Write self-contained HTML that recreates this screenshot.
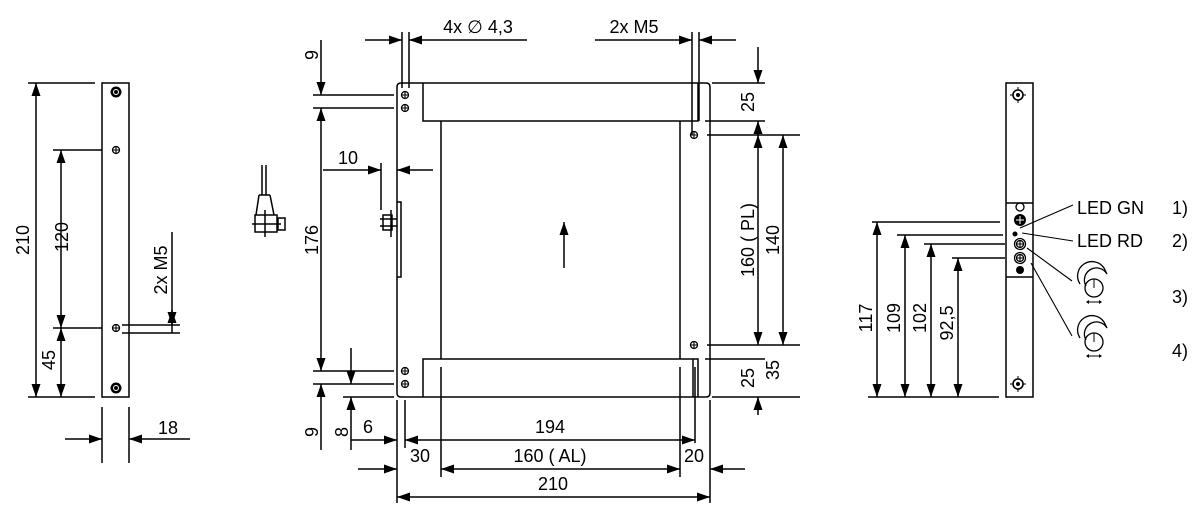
<!DOCTYPE html>
<html><head><meta charset="utf-8"><style>
html,body{margin:0;padding:0;background:#fff}
svg{display:block}
text{font-family:"Liberation Sans",sans-serif;font-size:18px;fill:#000}
</style></head><body>
<svg width="1200" height="519" viewBox="0 0 1200 519" xmlns="http://www.w3.org/2000/svg">
<defs>
<marker id="a" markerUnits="userSpaceOnUse" markerWidth="14" markerHeight="9" refX="13" refY="4.5" orient="auto-start-reverse"><path d="M0,0 L13,4.5 L0,9 z" fill="#000"/></marker>
<g id="h"><circle r="3.5" fill="none" stroke="#000" stroke-width="1.3"/><path d="M-3.5,0H3.5M0,-3.5V3.5" stroke="#000" stroke-width="1.1"/></g>
<g id="H"><circle r="5.5" fill="#000"/><circle r="2.5" fill="none" stroke="#fff" stroke-width="1"/></g>
<g id="R"><circle r="5" fill="none" stroke="#000" stroke-width="1.6"/><circle r="2" fill="#000"/><path d="M-8,0H-5M5,0H8M0,-8V-5M0,5V8" stroke="#000"/></g>
<g id="k"><path d="M-12,4 A13,13 0 0 1 12,-12 L15,-6 A8,8 0 0 0 -6,6" fill="none" stroke="#000" stroke-width="1.3"/><circle cx="2" cy="8" r="9" fill="none" stroke="#000" stroke-width="1.3"/><path d="M2,-1V8M-4,22H8" stroke="#000"/><path d="M-6,22l3,-2v4zM10,22l-3,-2v4z" fill="#000"/></g>
</defs>
<g stroke="#000" stroke-width="1.5" fill="none">
<!-- LEFT VIEW -->
<rect x="102" y="83" width="27" height="314"/>
<path d="M28,83H95M28,397H95M53,150H102M53,328H102"/>
<line x1="36" y1="83" x2="36" y2="397" marker-start="url(#a)" marker-end="url(#a)"/>
<line x1="61" y1="150" x2="61" y2="328" marker-start="url(#a)" marker-end="url(#a)"/>
<line x1="61" y1="328" x2="61" y2="397" marker-start="url(#a)" marker-end="url(#a)"/>
<path d="M122,325H180M122,333H180"/>
<line x1="172" y1="232" x2="172" y2="325" marker-end="url(#a)"/>
<line x1="172" y1="310" x2="172" y2="333" marker-start="url(#a)"/>
<path d="M102,407V463M129,407V463"/>
<line x1="65" y1="439" x2="102" y2="439" marker-end="url(#a)"/>
<line x1="190" y1="439" x2="129" y2="439" marker-end="url(#a)"/>
<!-- cable icon -->
<path d="M262,165V195M266,165V195M259,195H270M259,195L256,215M270,195L274,215M255,215H277V232H255ZM278,218H285V230H278ZM265,210V237M252,224H281"/>
<!-- MIDDLE VIEW -->
<path d="M401,83H706Q710,83 710,87V393Q710,397 706,397H401Q397,397 397,393V87Q397,83 401,83Z"/>
<path d="M423,83V121H698V83M423,397V359H698V397M441,121V359M680,121V359M693,359V397"/>
<path d="M397,202H401V277H397"/>
<path d="M383,215H392V230H383ZM380,219H397M380,226H397M391,210V237"/>
<line x1="564" y1="268" x2="564" y2="222" marker-end="url(#a)"/>
<!-- top dims -->
<path d="M402,32V88M409,32V88M692,32V135M699,32V121"/>
<line x1="365" y1="40" x2="402" y2="40" marker-end="url(#a)"/>
<line x1="527" y1="40" x2="409" y2="40" marker-end="url(#a)"/>
<line x1="595" y1="40" x2="692" y2="40" marker-end="url(#a)"/>
<line x1="736" y1="40" x2="699" y2="40" marker-end="url(#a)"/>
<!-- right dims -->
<path d="M712,83H765M705,121H765M707,135H800M707,345H800M705,359H765M712,397H800"/>
<line x1="758" y1="47" x2="758" y2="83" marker-end="url(#a)"/>
<line x1="758" y1="135" x2="758" y2="121" marker-end="url(#a)"/>
<line x1="758" y1="135" x2="758" y2="345" marker-start="url(#a)" marker-end="url(#a)"/>
<line x1="758" y1="415" x2="758" y2="397" marker-end="url(#a)"/>
<line x1="783" y1="135" x2="783" y2="345" marker-start="url(#a)" marker-end="url(#a)"/>
<!-- left dims -->
<path d="M313,95H394M313,108H394M313,371H394M313,384H394M343,397H394"/>
<line x1="321" y1="40" x2="321" y2="95" marker-end="url(#a)"/>
<line x1="321" y1="108" x2="321" y2="371" marker-start="url(#a)" marker-end="url(#a)"/>
<line x1="321" y1="450" x2="321" y2="384" marker-end="url(#a)"/>
<line x1="351" y1="348" x2="351" y2="384" marker-end="url(#a)"/>
<line x1="351" y1="450" x2="351" y2="397" marker-end="url(#a)"/>
<path d="M381,163V210"/>
<line x1="323" y1="170" x2="381" y2="170" marker-end="url(#a)"/>
<line x1="433" y1="170" x2="397" y2="170" marker-end="url(#a)"/>
<!-- bottom dims -->
<path d="M397,400V503M405,400V448M441,367V477M680,367V477M695,367V443M710,400V503"/>
<line x1="351" y1="440" x2="397" y2="440" marker-end="url(#a)"/>
<line x1="695" y1="440" x2="405" y2="440" marker-start="url(#a)" marker-end="url(#a)"/>
<line x1="358" y1="469" x2="397" y2="469" marker-end="url(#a)"/>
<line x1="441" y1="469" x2="680" y2="469" marker-start="url(#a)" marker-end="url(#a)"/>
<line x1="745" y1="469" x2="710" y2="469" marker-end="url(#a)"/>
<line x1="397" y1="497" x2="710" y2="497" marker-start="url(#a)" marker-end="url(#a)"/>
<!-- RIGHT VIEW -->
<rect x="1006" y="83" width="27" height="314"/>
<path d="M1006,203H1033M1006,277H1033"/>
<path d="M868,397H999M872,222H1000M897,235H1003M924,244H1005M952,258H1005"/>
<line x1="877" y1="222" x2="877" y2="397" marker-start="url(#a)" marker-end="url(#a)"/>
<line x1="905" y1="235" x2="905" y2="397" marker-start="url(#a)" marker-end="url(#a)"/>
<line x1="931" y1="244" x2="931" y2="397" marker-start="url(#a)" marker-end="url(#a)"/>
<line x1="958" y1="258" x2="958" y2="397" marker-start="url(#a)" marker-end="url(#a)"/>
<path d="M1020,228L1073,205M1022,233L1073,241M1027,248L1072,281M1031,263L1072,336" stroke-width="1.1"/>
</g>
<use href="#H" x="116" y="92"/><use href="#H" x="116" y="388"/>
<use href="#h" x="116" y="150"/><use href="#h" x="116" y="328"/>
<use href="#h" x="405" y="95"/><use href="#h" x="405" y="108"/>
<use href="#h" x="405" y="371"/><use href="#h" x="405" y="384"/>
<use href="#h" x="694" y="135"/><use href="#h" x="694" y="345"/>
<use href="#R" x="1018" y="95"/><use href="#R" x="1018" y="384"/>
<circle cx="1020" cy="207" r="4" fill="none" stroke="#000" stroke-width="1.3"/>
<circle cx="1020" cy="220" r="6" fill="#000"/><path d="M1016,220H1024M1020,216V224" stroke="#fff"/>
<circle cx="1015" cy="234" r="2.5" fill="#000"/>
<circle cx="1020" cy="244" r="5.5" fill="none" stroke="#000" stroke-width="1.3"/><use href="#h" x="1020" y="244"/>
<circle cx="1020" cy="258" r="5.5" fill="none" stroke="#000" stroke-width="1.3"/><use href="#h" x="1020" y="258"/>
<circle cx="1020" cy="270" r="4" fill="#000"/>
<use href="#k" x="1092" y="280"/><use href="#k" x="1092" y="334"/>
<!-- texts -->
<text transform="translate(29,240) rotate(-90)" text-anchor="middle">210</text>
<text transform="translate(68,237) rotate(-90)" text-anchor="middle">120</text>
<text transform="translate(55,360) rotate(-90)" text-anchor="middle">45</text>
<text transform="translate(167,270) rotate(-90)" text-anchor="middle">2x M5</text>
<text x="168" y="434" text-anchor="middle">18</text>
<text x="478" y="33" text-anchor="middle">4x ∅ 4,3</text>
<text x="634" y="33" text-anchor="middle">2x M5</text>
<text transform="translate(318,55) rotate(-90)" text-anchor="middle">9</text>
<text transform="translate(318,240) rotate(-90)" text-anchor="middle">176</text>
<text transform="translate(318,432) rotate(-90)" text-anchor="middle">9</text>
<text transform="translate(348,432) rotate(-90)" text-anchor="middle">8</text>
<text x="348" y="164" text-anchor="middle">10</text>
<text x="368" y="433" text-anchor="middle">6</text>
<text x="550" y="433" text-anchor="middle">194</text>
<text x="420" y="462" text-anchor="middle">30</text>
<text x="550" y="462" text-anchor="middle">160 ( AL)</text>
<text x="694" y="462" text-anchor="middle">20</text>
<text x="553" y="490" text-anchor="middle">210</text>
<text transform="translate(754,102) rotate(-90)" text-anchor="middle">25</text>
<text transform="translate(754,240) rotate(-90)" text-anchor="middle">160 ( PL)</text>
<text transform="translate(779,240) rotate(-90)" text-anchor="middle">140</text>
<text transform="translate(754,378) rotate(-90)" text-anchor="middle">25</text>
<text transform="translate(779,370) rotate(-90)" text-anchor="middle">35</text>
<text transform="translate(872,318) rotate(-90)" text-anchor="middle">117</text>
<text transform="translate(900,318) rotate(-90)" text-anchor="middle">109</text>
<text transform="translate(926,318) rotate(-90)" text-anchor="middle">102</text>
<text transform="translate(953,323) rotate(-90)" text-anchor="middle">92,5</text>
<text x="1077" y="214">LED GN</text><text x="1172" y="214">1)</text>
<text x="1077" y="247">LED RD</text><text x="1172" y="247">2)</text>
<text x="1172" y="303">3)</text><text x="1172" y="357">4)</text>
</svg>
</body></html>
